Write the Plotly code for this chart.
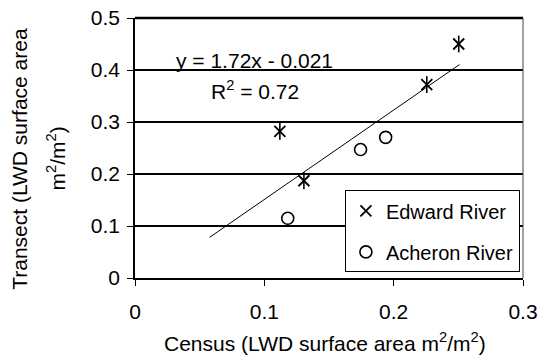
import plotly.graph_objects as go

# ---- data ----
edward_x = [0.112, 0.1306, 0.2256, 0.2503]
edward_y = [0.282, 0.187, 0.372, 0.450]
acheron_x = [0.1181, 0.1744, 0.1938]
acheron_y = [0.115, 0.247, 0.2705]
trend_slope = 1.72
trend_intercept = -0.021
trend_x = [0.0576, 0.2509]
trend_y = [trend_slope * v + trend_intercept for v in trend_x]
x_ticks = [0, 0.1, 0.2, 0.3]
y_ticks = [0, 0.1, 0.2, 0.3, 0.4, 0.5]

FONT = "Liberation Sans, Arial, sans-serif"

fig = go.Figure()

fig.add_trace(go.Scatter(x=trend_x, y=trend_y, mode="lines",
                         line=dict(color="black", width=1), showlegend=False,
                         hoverinfo="skip"))
# asterisk marker: x + vertical bar
fig.add_trace(go.Scatter(x=edward_x, y=edward_y, mode="markers", name="Edward River",
                         legendgroup="a",
                         marker=dict(symbol="x-thin-open", size=11, color="black",
                                     line=dict(color="black", width=1.8))))
fig.add_trace(go.Scatter(x=edward_x, y=edward_y, mode="markers", showlegend=False,
                         legendgroup="a",
                         marker=dict(symbol="line-ns-open", size=12, color="black",
                                     line=dict(color="black", width=1.6))))
fig.add_trace(go.Scatter(x=acheron_x, y=acheron_y, mode="markers", name="Acheron River",
                         legendgroup="b",
                         marker=dict(symbol="circle-open", size=12, color="black",
                                     line=dict(color="black", width=1.6))))

fig.update_layout(
    width=540, height=355,
    margin=dict(l=135, r=17, t=18, b=77),
    paper_bgcolor="white", plot_bgcolor="white",
    font=dict(family=FONT, size=21, color="black"),
    showlegend=True,
    legend=dict(x=0.541, y=0.337, xanchor="left", yanchor="top",
                bgcolor="white", bordercolor="black", borderwidth=1,
                font=dict(size=20), tracegroupgap=12, traceorder="grouped",
                itemwidth=30),
    xaxis=dict(range=[0, 0.3], tickvals=x_ticks, ticktext=[str(v) for v in x_ticks],
               showgrid=False, zeroline=False, showline=True, automargin=False,
               linecolor="black", linewidth=1.5, ticks="outside", ticklen=6,
               tickcolor="black", tickwidth=1.2, ticklabelstandoff=8),
    yaxis=dict(range=[0, 0.5], tickvals=y_ticks, ticktext=[str(v) for v in y_ticks],
               showgrid=True, gridcolor="black", gridwidth=1.5, zeroline=False,
               showline=True, linecolor="black", linewidth=1.5, ticks="outside",
               automargin=False,
               ticklen=6, tickcolor="black", tickwidth=1.2, ticklabelstandoff=3),
)

fig.add_shape(type="line", xref="paper", yref="paper", x0=0, x1=1, y0=1, y1=1,
              line=dict(color="black", width=2.5))
fig.add_shape(type="line", xref="paper", yref="paper", x0=1, x1=1, y0=0, y1=1,
              line=dict(color="#444", width=1))

fig.add_annotation(xref="paper", yref="paper", x=0.307, y=0.836,
                   text="y = 1.72x - 0.021", showarrow=False,
                   xanchor="center", yanchor="middle", font=dict(size=21))
fig.add_annotation(xref="paper", yref="paper", x=0.31, y=0.724,
                   text="R<sup>2</sup> = 0.72", showarrow=False,
                   xanchor="center", yanchor="middle", font=dict(size=21))

fig.add_annotation(xref="paper", yref="paper", x=0.49, y=-0.248,
                   text="Census (LWD surface area m<sup>2</sup>/m<sup>2</sup>)",
                   showarrow=False, xanchor="center", yanchor="middle",
                   font=dict(size=21))
fig.add_annotation(xref="paper", yref="paper", x=-0.296, y=0.459,
                   text="Transect (LWD surface area", textangle=-90,
                   showarrow=False, xanchor="center", yanchor="middle",
                   font=dict(size=21))
fig.add_annotation(xref="paper", yref="paper", x=-0.204, y=0.459,
                   text="m<sup>2</sup>/m<sup>2</sup>)", textangle=-90,
                   showarrow=False, xanchor="center", yanchor="middle",
                   font=dict(size=21))

fig.write_html("out.html", config={"displayModeBar": False},
               post_script="document.body.style.margin='0';")
